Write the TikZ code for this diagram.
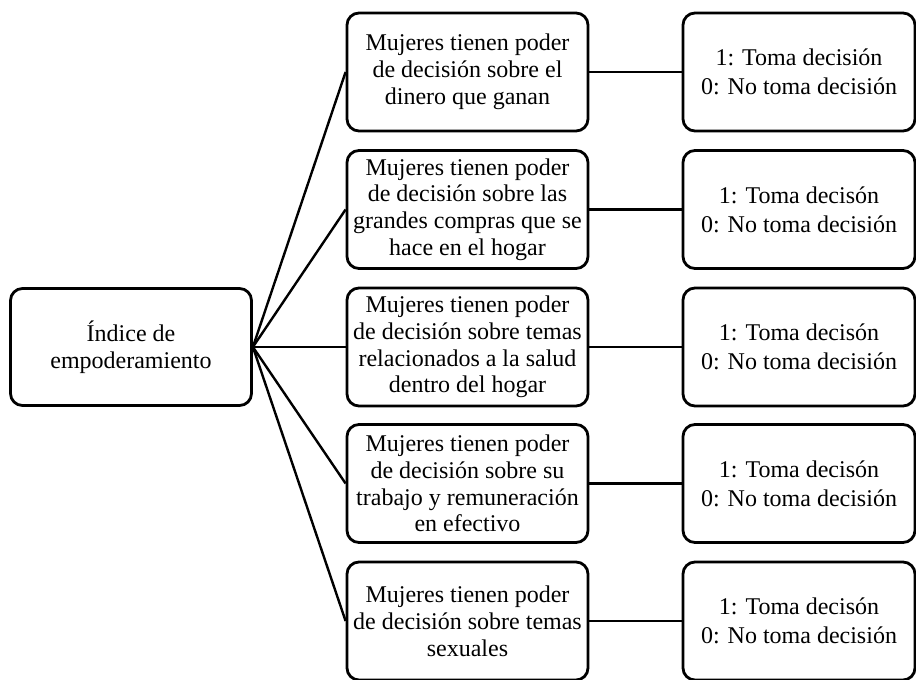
\documentclass[tikz,border=0pt]{standalone}
\usepackage{fontspec}
\setmainfont{Liberation Serif}
\begin{document}
\begin{tikzpicture}[x=0.5pt,y=-0.5pt,
  box/.style={draw=black, line width=1.4pt, rounded corners=6pt, inner sep=0pt,
    align=center, font=\fontsize{12pt}{13.4pt}\selectfont},
  rootbox/.style={box, minimum width=120.5pt, minimum height=58.5pt},
  midbox/.style={box, minimum width=120.5pt, minimum height=59pt},
  valbox/.style={box, minimum width=116pt, minimum height=59pt,
    font=\fontsize{12pt}{14.6pt}\selectfont},
  link/.style={line width=1.2pt}]
\useasboundingbox (0,0) rectangle (916,680);
\node[rootbox] (root) at (131,347) {Índice de\\empoderamiento};
\node[midbox] (m1) at (467.5,72) {Mujeres tienen poder\\de decisión sobre el\\dinero que ganan};
\node[midbox] (m2) at (467.5,209.5) {Mujeres tienen poder\\de decisión sobre las\\grandes compras que se\\hace en el hogar};
\node[midbox] (m3) at (467.5,347) {Mujeres tienen poder\\de decisión sobre temas\\relacionados a la salud\\dentro del hogar};
\node[midbox] (m4) at (467.5,483.5) {Mujeres tienen poder\\de decisión sobre su\\trabajo y remuneración\\en efectivo};
\node[midbox] (m5) at (467.5,621) {Mujeres tienen poder\\de decisión sobre temas\\sexuales};
\node[valbox] (v1) at (799,72) {1: Toma decisión\\0: No toma decisión};
\node[valbox] (v2) at (799,209.5) {1: Toma decisón\\0: No toma decisión};
\node[valbox] (v3) at (799,347) {1: Toma decisón\\0: No toma decisión};
\node[valbox] (v4) at (799,483.5) {1: Toma decisón\\0: No toma decisión};
\node[valbox] (v5) at (799,621) {1: Toma decisón\\0: No toma decisión};
\foreach \i in {1,...,5}{
  \draw[link] (root.east) -- (m\i.west);
  \draw[link] (m\i.east) -- (v\i.west);
}
\end{tikzpicture}
\end{document}
